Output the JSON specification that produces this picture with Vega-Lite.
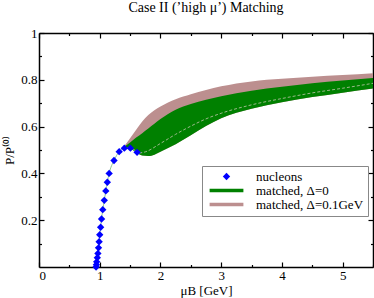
{
  "$schema": "https://vega.github.io/schema/vega-lite/v6.json",
  "width": 334,
  "height": 234,
  "autosize": {"type": "none"},
  "padding": {"left": 39, "top": 33, "right": 1, "bottom": 31},
  "title": {"text": "Case II (’high μ’) Matching", "font": "Liberation Serif", "fontSize": 14, "fontWeight": "normal", "color": "black", "offset": 12},
  "datasets": {
    "nucleons": [
      {"x": 0.94, "y": 0.0, "series": "nucleons"},
      {"x": 0.945, "y": 0.01, "series": "nucleons"},
      {"x": 0.95, "y": 0.022, "series": "nucleons"},
      {"x": 0.96, "y": 0.04, "series": "nucleons"},
      {"x": 0.97, "y": 0.058, "series": "nucleons"},
      {"x": 0.98, "y": 0.082, "series": "nucleons"},
      {"x": 0.99, "y": 0.108, "series": "nucleons"},
      {"x": 1.0, "y": 0.138, "series": "nucleons"},
      {"x": 1.015, "y": 0.17, "series": "nucleons"},
      {"x": 1.03, "y": 0.205, "series": "nucleons"},
      {"x": 1.05, "y": 0.245, "series": "nucleons"},
      {"x": 1.075, "y": 0.285, "series": "nucleons"},
      {"x": 1.1, "y": 0.325, "series": "nucleons"},
      {"x": 1.125, "y": 0.362, "series": "nucleons"},
      {"x": 1.155, "y": 0.4, "series": "nucleons"},
      {"x": 1.235, "y": 0.455, "series": "nucleons"},
      {"x": 1.32, "y": 0.493, "series": "nucleons"},
      {"x": 1.405, "y": 0.508, "series": "nucleons"},
      {"x": 1.505, "y": 0.508, "series": "nucleons"},
      {"x": 1.615, "y": 0.49, "series": "nucleons"}
    ],
    "bands": [
      {"x": 1.4, "glo": 0.508, "ghi": 0.512, "bhi": 0.515},
      {"x": 1.5, "glo": 0.505, "ghi": 0.532, "bhi": 0.55},
      {"x": 1.6, "glo": 0.49, "ghi": 0.553, "bhi": 0.587},
      {"x": 1.7, "glo": 0.476, "ghi": 0.572, "bhi": 0.622},
      {"x": 1.8, "glo": 0.474, "ghi": 0.592, "bhi": 0.65},
      {"x": 1.9, "glo": 0.48, "ghi": 0.612, "bhi": 0.67},
      {"x": 2.0, "glo": 0.493, "ghi": 0.632, "bhi": 0.686},
      {"x": 2.25, "glo": 0.525, "ghi": 0.672, "bhi": 0.717},
      {"x": 2.5, "glo": 0.563, "ghi": 0.697, "bhi": 0.738},
      {"x": 2.75, "glo": 0.603, "ghi": 0.715, "bhi": 0.756},
      {"x": 3.0, "glo": 0.636, "ghi": 0.73, "bhi": 0.772},
      {"x": 3.5, "glo": 0.676, "ghi": 0.753, "bhi": 0.793},
      {"x": 4.0, "glo": 0.704, "ghi": 0.77, "bhi": 0.804},
      {"x": 4.5, "glo": 0.726, "ghi": 0.785, "bhi": 0.813},
      {"x": 5.0, "glo": 0.745, "ghi": 0.797, "bhi": 0.82},
      {"x": 5.5, "glo": 0.763, "ghi": 0.808, "bhi": 0.828}
    ],
    "dashed": [
      {"x": 1.65, "y": 0.487},
      {"x": 1.75, "y": 0.492},
      {"x": 2.0, "y": 0.528},
      {"x": 2.25, "y": 0.567},
      {"x": 2.5, "y": 0.602},
      {"x": 2.75, "y": 0.633},
      {"x": 3.0, "y": 0.657},
      {"x": 3.5, "y": 0.693},
      {"x": 4.0, "y": 0.72},
      {"x": 4.5, "y": 0.744},
      {"x": 5.0, "y": 0.764},
      {"x": 5.5, "y": 0.785}
    ]
  },
  "config": {
    "view": {"stroke": null},
    "axis": {
      "labelFont": "Liberation Serif", "labelFontSize": 13, "labelColor": "black",
      "titleFont": "Liberation Serif", "titleFontSize": 13, "titleFontWeight": "normal", "titleColor": "black",
      "domainColor": "black", "domainWidth": 1.5, "tickColor": "black", "tickWidth": 1.2,
      "grid": false, "labelPadding": 7, "tickSize": -5
    },
    "legend": {
      "orient": "none", "legendX": 163, "legendY": 133,
      "strokeColor": "#888", "fillColor": "white", "padding": 4,
      "labelFont": "Liberation Serif", "labelFontSize": 13, "labelColor": "black",
      "symbolSize": 54, "symbolStrokeWidth": 0, "symbolOffset": 14, "labelOffset": 23,
      "rowPadding": 0, "cornerRadius": 0
    }
  },
  "resolve": {"axis": {"x": "independent", "y": "independent"}},
  "layer": [
    {
      "data": {"name": "bands"},
      "mark": {"type": "area", "color": "#bc8f8f", "interpolate": "monotone"},
      "encoding": {
        "x": {"field": "x", "type": "quantitative", "scale": {"domain": [0, 5.5], "nice": false, "zero": false},
              "axis": {"orient": "bottom", "values": [0, 1, 2, 3, 4, 5], "format": "d", "title": "μB [GeV]", "titlePadding": 2}},
        "y": {"field": "bhi", "type": "quantitative", "scale": {"domain": [0, 1], "nice": false},
              "axis": {"orient": "left", "values": [0.2, 0.4, 0.6, 0.8, 1], "format": "~g", "title": "P/P⁽⁰⁾", "titlePadding": 4}},
        "y2": {"field": "glo"}
      }
    },
    {
      "data": {"name": "bands"},
      "mark": {"type": "area", "color": "#008000", "interpolate": "monotone"},
      "encoding": {
        "x": {"field": "x", "type": "quantitative", "axis": {"orient": "top", "values": [0, 1, 2, 3, 4, 5], "labels": false, "title": null}},
        "y": {"field": "ghi", "type": "quantitative", "axis": {"orient": "right", "values": [0.2, 0.4, 0.6, 0.8, 1], "labels": false, "title": null}},
        "y2": {"field": "glo"}
      }
    },
    {
      "data": {"name": "dashed"},
      "mark": {"type": "line", "color": "#9bb88a", "strokeWidth": 1, "strokeDash": [3, 2], "interpolate": "monotone"},
      "encoding": {
        "x": {"field": "x", "type": "quantitative", "axis": {"orient": "bottom", "values": [0.5, 1.5, 2.5, 3.5, 4.5, 5.5], "labels": false, "title": null, "domain": false, "tickSize": -2.5}},
        "y": {"field": "y", "type": "quantitative", "axis": {"orient": "left", "values": [0.1, 0.3, 0.5, 0.7, 0.9], "labels": false, "title": null, "domain": false, "tickSize": -2.5}}
      }
    },
    {
      "data": {"name": "nucleons"},
      "mark": {"type": "line", "color": "#8fc88f", "strokeWidth": 1, "interpolate": "monotone"},
      "encoding": {
        "x": {"field": "x", "type": "quantitative", "axis": {"orient": "top", "values": [0.5, 1.5, 2.5, 3.5, 4.5, 5.5], "labels": false, "title": null, "domain": false, "tickSize": -2.5}},
        "y": {"field": "y", "type": "quantitative", "axis": {"orient": "right", "values": [0.1, 0.3, 0.5, 0.7, 0.9], "labels": false, "title": null, "domain": false, "tickSize": -2.5}}
      }
    },
    {
      "data": {"name": "nucleons"},
      "mark": {"type": "point", "filled": true, "size": 54, "opacity": 1},
      "encoding": {
        "x": {"field": "x", "type": "quantitative", "axis": null},
        "y": {"field": "y", "type": "quantitative", "axis": null},
        "color": {"field": "series", "type": "nominal",
                  "scale": {"domain": ["nucleons", "matched, Δ=0", "matched, Δ=0.1GeV"], "range": ["#0000ff", "#008000", "#bc8f8f"]},
                  "legend": {"title": null}},
        "shape": {"field": "series", "type": "nominal",
                  "scale": {"domain": ["nucleons", "matched, Δ=0", "matched, Δ=0.1GeV"], "range": ["diamond", "M-4.6,-0.5H4.6V0.5H-4.6Z", "M-4.6,-0.5H4.6V0.5H-4.6Z"]},
                  "legend": {"title": null}}
      }
    }
  ]
}
